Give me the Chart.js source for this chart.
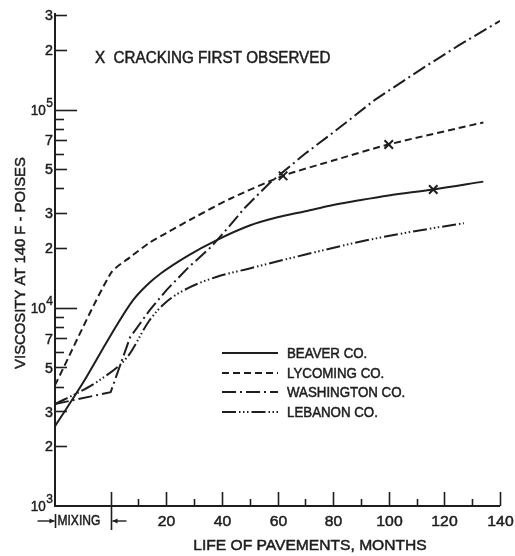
<!DOCTYPE html>
<html>
<head>
<meta charset="utf-8">
<script src="https://cdn.jsdelivr.net/npm/chart.js@4.4.1/dist/chart.umd.min.js"></script>
<style>
  html, body { margin: 0; padding: 0; background: #ffffff; }
  canvas { display: block; }
</style>
</head>
<body>
<canvas id="chart" width="515" height="556"></canvas>
<script>
// Asphalt viscosity at 140 F (poises) against pavement life (months)
const beaverMonths     = [-20, -10, 0, 8, 13, 18, 28, 38, 50, 60, 70, 80, 90, 100, 116, 134];
const beaverViscosity  = [2530, 4170, 7250, 10900, 13000, 14900, 18400, 21900, 26000, 28600, 30700, 33000, 35000, 36900, 39500, 43300];

const lycomingMonths    = [-20, 0, 7, 14, 20, 30, 43, 62, 80, 100, 134];
const lycomingViscosity = [4070, 14900, 18000, 21300, 23800, 28500, 35500, 46300, 55300, 66700, 86100];

const washingtonMonths    = [-20, 0, 7, 14, 20, 28, 36, 43, 48, 57, 70, 80, 95, 112, 125, 140];
const washingtonViscosity = [3270, 3750, 7100, 9700, 12250, 16000, 20200, 26100, 31700, 42400, 60000, 76500, 112000, 161000, 210000, 280000];

const lebanonMonths    = [-20, -10, -4, 6, 14, 20, 28, 38, 50, 64, 92, 115, 127];
const lebanonViscosity = [3270, 3840, 4310, 5640, 8650, 10700, 12600, 14300, 15800, 17700, 21900, 25100, 26700];

// Points where cracking was first observed
const crackMonths    = [62, 100, 116];
const crackViscosity = [46300, 66700, 39500];

// Axis ticks
const xMajorTicks = [20, 40, 60, 80, 100, 120, 140];
const xMinorTicks = [10, 30, 50, 70, 90, 110, 130];
const yDecades    = [1000, 10000, 100000];
const yMinorTicks = [2000, 3000, 4000, 5000, 6000, 7000, 8000, 9000,
                     20000, 30000, 40000, 50000, 60000, 70000, 80000, 90000,
                     200000, 300000];
const yLabelled   = [2000, 3000, 5000, 7000, 20000, 30000, 50000, 70000, 200000, 300000];

const seriesNames = ['BEAVER CO.', 'LYCOMING CO.', 'WASHINGTON CO.', 'LEBANON CO.'];

const INK = '#1e1e1e';
const FONT = '"Liberation Sans", Arial, sans-serif';

const dashBeaver = [];
const dashLycoming = [7, 4];
const dashWashington = [14, 4, 2, 4];
const dashLebanon = [14, 3, 1.5, 2.5, 1.5, 2.5, 1.5, 3];

function pts(xs, ys) { return xs.map((x, i) => ({ x: x, y: ys[i] })); }

// Lettering: filled and lightly stroked for a slightly heavier pen line
function text(ctx, s, x, y, size, align, sx) {
  ctx.save();
  ctx.font = size + 'px ' + FONT;
  ctx.fillStyle = INK;
  ctx.strokeStyle = INK;
  ctx.lineWidth = 0.5;
  ctx.setLineDash([]);
  ctx.textBaseline = 'middle';
  ctx.translate(x, y);
  ctx.scale(sx, 1);
  ctx.textAlign = align;
  ctx.fillText(s, 0, 0);
  ctx.strokeText(s, 0, 0);
  ctx.restore();
}

function powerLabel(ctx, exp, rightX, y) {
  ctx.save();
  ctx.fillStyle = INK;
  ctx.strokeStyle = INK;
  ctx.lineWidth = 0.4;
  ctx.textBaseline = 'middle';
  ctx.font = '12px ' + FONT;
  ctx.textAlign = 'right';
  ctx.fillText(String(exp), rightX, y - 6);
  ctx.strokeText(String(exp), rightX, y - 6);
  const w = ctx.measureText(String(exp)).width;
  ctx.restore();
  text(ctx, '10', rightX - w - 0.5, y + 1, 15, 'right', 0.9);
}

const axesPlugin = {
  id: 'axesPlugin',
  afterDatasetsDraw(chart) {
    const ctx = chart.ctx;
    const xs = chart.scales.x, ys = chart.scales.y;
    const a = chart.chartArea;
    ctx.save();
    ctx.strokeStyle = INK;
    ctx.fillStyle = INK;
    ctx.lineCap = 'butt';

    // axis lines
    ctx.lineWidth = 2;
    ctx.beginPath();
    ctx.moveTo(a.left, a.top - 2);
    ctx.lineTo(a.left, a.bottom);
    ctx.lineTo(a.right, a.bottom);
    ctx.stroke();

    // y ticks (pointing into the plot)
    ctx.lineWidth = 1.6;
    yDecades.forEach(v => {
      if (v === 1000) return;
      const y = Math.round(ys.getPixelForValue(v)) + 0.5;
      ctx.beginPath(); ctx.moveTo(a.left, y); ctx.lineTo(a.left + 22, y); ctx.stroke();
    });
    yMinorTicks.forEach(v => {
      const y = Math.round(ys.getPixelForValue(v)) + 0.5;
      const len = yLabelled.includes(v) ? 12 : 9;
      ctx.beginPath(); ctx.moveTo(a.left, y); ctx.lineTo(a.left + len, y); ctx.stroke();
    });

    // y labels
    yLabelled.forEach(v => {
      const y = ys.getPixelForValue(v);
      const d = String(v)[0];
      text(ctx, d, a.left - 2, y + 1, 15, 'right', 0.95);
    });
    yDecades.forEach(v => {
      const y = ys.getPixelForValue(v);
      powerLabel(ctx, Math.round(Math.log10(v)), a.left - 2, y);
    });

    // x ticks (pointing up into the plot)
    const base = a.bottom;
    ctx.lineWidth = 1.6;
    xMajorTicks.forEach(v => {
      const x = Math.round(xs.getPixelForValue(v)) + 0.5;
      ctx.beginPath(); ctx.moveTo(x, base); ctx.lineTo(x, base - 14); ctx.stroke();
      text(ctx, String(v), x, base + 16, 15, 'center', 1.05);
    });
    xMinorTicks.forEach(v => {
      const x = Math.round(xs.getPixelForValue(v)) + 0.5;
      ctx.beginPath(); ctx.moveTo(x, base); ctx.lineTo(x, base - 7); ctx.stroke();
    });

    // month 0: tick runs through the axis and marks the end of mixing
    const x0 = Math.round(xs.getPixelForValue(0)) + 0.5;
    ctx.beginPath(); ctx.moveTo(x0, base - 14); ctx.lineTo(x0, base + 24); ctx.stroke();
    const xl = a.left + 0.5;
    ctx.beginPath(); ctx.moveTo(xl, base + 8); ctx.lineTo(xl, base + 22); ctx.stroke();

    const ay = base + 15;
    ctx.lineWidth = 1.4;
    // arrow into the left bar
    ctx.beginPath(); ctx.moveTo(xl - 18, ay); ctx.lineTo(xl - 1, ay); ctx.stroke();
    ctx.beginPath(); ctx.moveTo(xl - 1, ay); ctx.lineTo(xl - 6, ay - 2.5); ctx.lineTo(xl - 6, ay + 2.5); ctx.closePath(); ctx.fill();
    // arrow into the right bar
    ctx.beginPath(); ctx.moveTo(x0 + 15, ay); ctx.lineTo(x0 + 1, ay); ctx.stroke();
    ctx.beginPath(); ctx.moveTo(x0 + 1, ay); ctx.lineTo(x0 + 6, ay - 2.5); ctx.lineTo(x0 + 6, ay + 2.5); ctx.closePath(); ctx.fill();
    text(ctx, 'MIXING', xl + 2, ay, 14, 'left', 0.86);

    // axis titles
    text(ctx, 'LIFE OF PAVEMENTS, MONTHS', 310, 546, 15, 'center', 1.04);
    ctx.save();
    ctx.translate(21, 263);
    ctx.rotate(-Math.PI / 2);
    text(ctx, 'VISCOSITY AT 140 F - POISES', 0, 0, 15, 'center', 0.99);
    ctx.restore();

    // key for the crack marks
    text(ctx, 'X  CRACKING FIRST OBSERVED', 95, 59, 16, 'left', 0.95);

    // line key
    const styles = [dashBeaver, dashLycoming, dashWashington, dashLebanon];
    const rows = [353, 373, 392, 412];
    ctx.lineWidth = 2;
    styles.forEach((d, i) => {
      ctx.setLineDash(d);
      ctx.beginPath(); ctx.moveTo(222, rows[i]); ctx.lineTo(278, rows[i]); ctx.stroke();
      ctx.setLineDash([]);
      text(ctx, seriesNames[i], 287, rows[i] + 1, 14, 'left', 0.95);
    });
    ctx.restore();
  }
};

const lineStyle = {
  borderColor: INK,
  borderWidth: 2,
  pointRadius: 0,
  fill: false
};

new Chart(document.getElementById('chart'), {
  type: 'line',
  data: {
    datasets: [
      Object.assign({ label: seriesNames[0], data: pts(beaverMonths, beaverViscosity), borderDash: dashBeaver, cubicInterpolationMode: 'monotone' }, lineStyle),
      Object.assign({ label: seriesNames[1], data: pts(lycomingMonths, lycomingViscosity), borderDash: dashLycoming, tension: 0.25 }, lineStyle),
      Object.assign({ label: seriesNames[2], data: pts(washingtonMonths, washingtonViscosity), borderDash: dashWashington, tension: 0 }, lineStyle),
      Object.assign({ label: seriesNames[3], data: pts(lebanonMonths, lebanonViscosity), borderDash: dashLebanon, cubicInterpolationMode: 'monotone' }, lineStyle),
      {
        label: 'cracking',
        data: pts(crackMonths, crackViscosity),
        showLine: false,
        pointStyle: 'crossRot',
        pointRadius: 6,
        pointBorderWidth: 2,
        pointBorderColor: INK,
        pointBackgroundColor: INK
      }
    ]
  },
  options: {
    responsive: false,
    devicePixelRatio: 1,
    animation: false,
    layout: { padding: { left: 55, right: 15, top: 15, bottom: 50 } },
    plugins: { legend: { display: false }, tooltip: { enabled: false } },
    scales: {
      x: { type: 'linear', min: -20, max: 140, display: false },
      y: { type: 'logarithmic', min: 1000, max: 300000, display: false }
    }
  },
  plugins: [axesPlugin]
});
</script>
</body>
</html>
